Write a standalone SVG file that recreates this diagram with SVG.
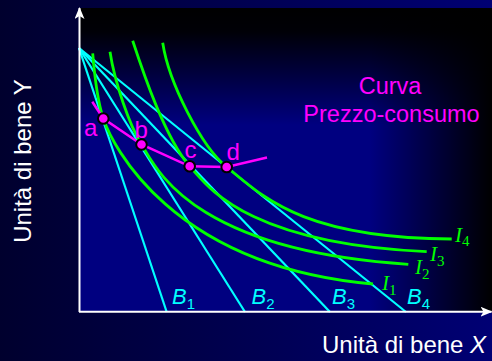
<svg xmlns="http://www.w3.org/2000/svg" width="492" height="361" viewBox="0 0 492 361">
<defs>
<linearGradient id="bgOuter" x1="0" y1="0" x2="1" y2="0">
<stop offset="0" stop-color="#00002e"/>
<stop offset="1" stop-color="#000074"/>
</linearGradient>
<linearGradient id="topShade" x1="0" y1="8" x2="0" y2="125" gradientUnits="userSpaceOnUse">
<stop offset="0" stop-color="#000000" stop-opacity="1"/>
<stop offset="0.2" stop-color="#000000" stop-opacity="0.95"/>
<stop offset="1" stop-color="#000000" stop-opacity="0"/>
</linearGradient>
<linearGradient id="rightShade" x1="370" y1="0" x2="492" y2="0" gradientUnits="userSpaceOnUse">
<stop offset="0" stop-color="#000000" stop-opacity="0"/>
<stop offset="1" stop-color="#000000" stop-opacity="1"/>
</linearGradient>
<marker id="arrow" viewBox="0 0 12 10" refX="11" refY="5" markerWidth="12" markerHeight="10" markerUnits="userSpaceOnUse" orient="auto">
<path d="M0,0 L12,5 L0,10 L3,5 Z" fill="#ffffff"/>
</marker>
</defs>
<style>
.axis{stroke:#ffffff;stroke-width:2;fill:none}
.budget{stroke:#00ffff;stroke-width:2.2;fill:none}
.indiff{stroke:#00ff00;stroke-width:2.8;fill:none}
.pcc{stroke:#ff00ff;stroke-width:2.5;fill:none}
.pt{fill:#ff00ff;stroke:#000000;stroke-width:2}
.lbl{font-family:"Liberation Sans",Arial,sans-serif}
.ptlbl{font-family:"Liberation Sans",Arial,sans-serif;font-size:24px;fill:#ff00ff}
.blbl{font-family:"Liberation Sans",Arial,sans-serif;font-size:22px;fill:#00ffff}
.ilbl{font-family:"Liberation Serif","Times New Roman",serif;font-size:21px;fill:#00ff00}
</style>
<g id="background">
<rect x="0" y="0" width="492" height="361" fill="url(#bgOuter)"/>
<rect x="79" y="8" width="413" height="304" fill="#000080"/>
<rect x="79" y="8" width="413" height="304" fill="url(#topShade)"/>
<rect x="79" y="8" width="413" height="304" fill="url(#rightShade)"/>
</g>
<g id="connectors">
<g id="budget-lines">
<line class="budget" x1="79" y1="48" x2="166.7" y2="312"/>
<line class="budget" x1="79" y1="48" x2="245" y2="312"/>
<line class="budget" x1="79" y1="48" x2="330" y2="312"/>
<line class="budget" x1="79" y1="48" x2="406" y2="312"/>
</g>
<g id="indifference-curves">
<path class="indiff" d="M92.7,53.3 C94.5,75 97.3,100.5 103.3,118.5 C111.6,143.5 170,266 373,284"/>
<path class="indiff" d="M110,51.7 C114.5,81.7 129.5,125.4 141.5,144.5 C156,167.5 190,250 408.3,264.3"/>
<path class="indiff" d="M132.7,40.7 C143,72 165,138 189.7,166.3 C205,182 240,243 426.7,251.7"/>
<path class="indiff" d="M162.7,42.7 C168.7,82.7 201.7,146.8 226.7,167 C261.7,195.2 300,238 451.7,239"/>
</g>
<g id="axes">
<line class="axis" x1="79.5" y1="312" x2="79.5" y2="8" marker-end="url(#arrow)"/>
<line class="axis" x1="79" y1="311.7" x2="491.5" y2="311.7" marker-end="url(#arrow)"/>
</g>
<polyline id="price-consumption-curve" class="pcc" points="92.3,101.7 103.3,118.5 141.5,144.5 189.7,166.3 226.7,167 267,157.5"/>
</g>
<g id="point-a"><circle class="pt" cx="103.3" cy="118.5" r="5.3"/><text class="ptlbl" x="84" y="136">a</text></g>
<g id="point-b"><circle class="pt" cx="141.5" cy="144.5" r="5.3"/><text class="ptlbl" x="134.5" y="138.3">b</text></g>
<g id="point-c"><circle class="pt" cx="189.7" cy="166.3" r="5.3"/><text class="ptlbl" x="184.5" y="158.3">c</text></g>
<g id="point-d"><circle class="pt" cx="226.7" cy="167" r="5.3"/><text class="ptlbl" x="226.5" y="160">d</text></g>
<g id="budget-labels">
<text class="blbl" x="172" y="304"><tspan font-style="italic">B</tspan><tspan font-size="15" dy="5">1</tspan></text>
<text class="blbl" x="251.5" y="304"><tspan font-style="italic">B</tspan><tspan font-size="15" dy="5">2</tspan></text>
<text class="blbl" x="332" y="304"><tspan font-style="italic">B</tspan><tspan font-size="15" dy="5">3</tspan></text>
<text class="blbl" x="407" y="304"><tspan font-style="italic">B</tspan><tspan font-size="15" dy="5">4</tspan></text>
</g>
<g id="indifference-labels">
<text class="ilbl" x="382" y="290"><tspan font-style="italic">I</tspan><tspan font-size="15" dy="5">1</tspan></text>
<text class="ilbl" x="415" y="274"><tspan font-style="italic">I</tspan><tspan font-size="15" dy="5">2</tspan></text>
<text class="ilbl" x="430" y="260.5"><tspan font-style="italic">I</tspan><tspan font-size="15" dy="5">3</tspan></text>
<text class="ilbl" x="455" y="242"><tspan font-style="italic">I</tspan><tspan font-size="15" dy="4">4</tspan></text>
</g>
<g id="curve-title">
<text class="lbl" font-size="23.5" fill="#ff00ff" text-anchor="middle" x="390" y="94">Curva</text>
<text class="lbl" font-size="23.5" fill="#ff00ff" text-anchor="middle" x="391.5" y="121.5">Prezzo-consumo</text>
</g>
<g id="axis-labels">
<text class="lbl" font-size="24" fill="#ffffff" x="322" y="353">Unità di bene <tspan font-style="italic">X</tspan></text>
<text class="lbl" font-size="24" fill="#ffffff" text-anchor="middle" transform="translate(31,161) rotate(-90)">Unità di bene Y</text>
</g>
</svg>
